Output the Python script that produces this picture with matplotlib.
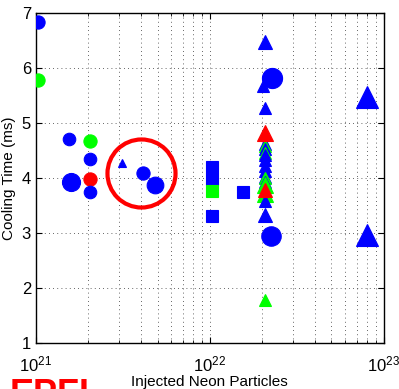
import matplotlib.pyplot as plt
from matplotlib.ticker import LogLocator, FixedLocator

plt.rcParams['font.family'] = ['Liberation Sans', 'DejaVu Sans']

# --- datos ---
# circulos
circ_x = [1.03e21, 1.03e21, 1.55e21, 1.6e21, 2.04e21, 2.04e21, 2.04e21, 2.04e21,
          4.1e21, 4.85e21, 2.27e22, 2.25e22]
circ_y = [6.84, 5.78, 4.71, 3.93, 4.67, 4.35, 3.98, 3.75, 4.09, 3.87, 5.82, 2.95]
circ_s = [9.5, 9.5, 9.0, 13.0, 9.5, 9.0, 9.5, 9.0, 9.5, 12.0, 14.5, 14.0]
circ_c = ['b', 'lime', 'b', 'b', 'lime', 'b', 'r', 'b', 'b', 'b', 'b', 'b']

# cuadrados
sq_x = [1.03e22, 1.03e22, 1.03e22, 1.03e22, 1.55e22]
sq_y = [4.2, 3.98, 3.76, 3.31, 3.75]
sq_c = ['b', 'b', 'lime', 'b', 'b']

# triangulos
tri_x = [3.12e21, 2.07e22, 2.03e22, 2.07e22,
         2.07e22, 2.07e22, 2.07e22, 2.07e22, 2.07e22, 2.07e22, 2.07e22,
         2.07e22, 2.07e22, 2.07e22, 2.07e22, 2.07e22, 2.07e22, 2.07e22,
         2.07e22, 2.07e22, 2.07e22, 2.07e22, 8.0e22, 8.0e22]
tri_y = [4.27, 6.47, 5.67, 5.27,
         4.62, 4.58, 4.52, 4.45, 4.42, 4.32, 4.22,
         4.12, 4.02, 4.0, 3.92, 3.88, 3.7, 3.58,
         3.78, 4.82, 3.33, 1.78, 5.47, 2.96]
tri_s = [5.5, 10, 9, 9,
         9, 9, 9, 9, 9, 9, 9,
         9, 9, 9, 9, 11, 11, 9,
         10, 11, 10, 9, 16, 16]
tri_c = ['b', 'b', 'b', 'b',
         'b', 'lime', 'b', 'lime', 'b', 'b', 'b',
         'b', 'b', 'lime', 'b', 'lime', 'lime', 'b',
         'r', 'r', 'b', 'lime', 'b', 'b']

# anillo rojo (anotacion)
ring_x, ring_y = 4.0e21, 4.09

fig = plt.figure(figsize=(3.99, 3.89), dpi=100)
ax = fig.add_axes([0.090, 0.118, 0.872, 0.849])

ax.set_xscale('log')
ax.set_xlim(1e21, 1e23)
ax.set_ylim(1, 7)

# cuadricula estilo MATLAB
ax.grid(True, which='major', axis='both', linestyle=(0, (1, 4)), color='0.2', lw=0.6)
ax.grid(True, which='minor', axis='x', linestyle=(0, (1, 4)), color='0.2', lw=0.6)
ax.set_axisbelow(True)

for x, y, s, c in zip(circ_x, circ_y, circ_s, circ_c):
    ax.plot(x, y, 'o', ms=s, mfc=c, mec=c, mew=0.8, zorder=3)
for x, y, c in zip(sq_x, sq_y, sq_c):
    ax.plot(x, y, 's', ms=8.5, mfc=c, mec=c, mew=0.8, zorder=3)
for x, y, s, c in zip(tri_x, tri_y, tri_s, tri_c):
    ax.plot(x, y, '^', ms=s, mfc=c, mec=c, mew=0.8, zorder=3)

ax.plot(ring_x, ring_y, 'o', ms=49, mfc='none', mec='r', mew=3, zorder=4)

ax.xaxis.set_major_locator(LogLocator(base=10, numticks=5))
ax.yaxis.set_major_locator(FixedLocator([1, 2, 3, 4, 5, 6, 7]))
ax.tick_params(which='both', direction='in', top=True, right=True, labelsize=12)
ax.tick_params(which='major', length=4)
ax.tick_params(which='minor', length=2)
ax.tick_params(axis='x', which='major', pad=8)
for sp in ax.spines.values():
    sp.set_linewidth(1.0)

ax.set_xlabel('Injected Neon Particles', fontsize=11, labelpad=1)
ax.set_ylabel('Cooling Time (ms)', fontsize=11)

# logo recortado abajo a la izquierda
fig.text(10 / 399, -0.062, 'EPFL', color='red', fontsize=26, fontweight='bold',
         ha='left', va='bottom')

fig.savefig('out.png', dpi=100)
